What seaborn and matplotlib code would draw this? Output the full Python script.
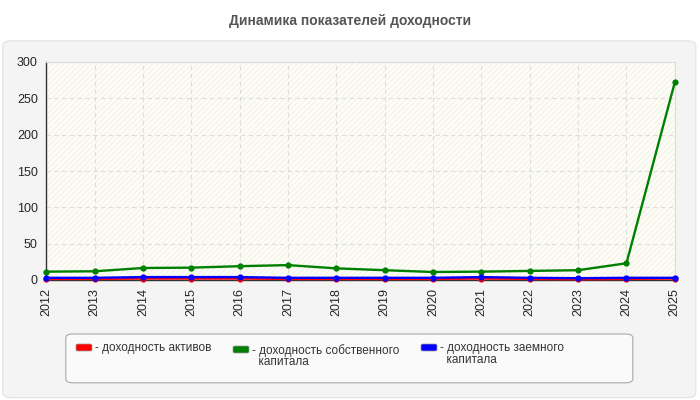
import pandas as pd
import matplotlib.pyplot as plt
import seaborn as sns
from matplotlib.patches import FancyBboxPatch

# данные
years = list(range(2012, 2026))
roa = [1.5, 1.5, 2.0, 2.0, 2.0, 1.5, 1.5, 1.5, 1.5, 2.0, 1.5, 1.0, 1.5, 2.0]
roe = [11.5, 12.0, 16.5, 17.0, 19.0, 20.5, 16.0, 13.5, 11.0, 11.5, 12.5, 13.5, 23.0, 272.0]
rod = [3.0, 3.0, 4.0, 4.0, 4.0, 3.0, 3.0, 3.0, 3.0, 4.0, 3.0, 2.5, 3.0, 3.0]

labels = ['- доходность активов',
          '- доходность собственного\n  капитала',
          '- доходность заемного\n  капитала']
colors = ['#ff0000', '#008000', '#0000ff']

df = pd.DataFrame({
    'год': years * 3,
    'значение': roa + roe + rod,
    'показатель': [labels[0]] * len(years) + [labels[1]] * len(years) + [labels[2]] * len(years),
})

sns.set_style('white')
plt.rcParams['font.family'] = ['Liberation Sans', 'DejaVu Sans']
plt.rcParams['hatch.color'] = '#efefe8'
plt.rcParams['hatch.linewidth'] = 0.6

fig = plt.figure(figsize=(7, 4), dpi=100)
fig.patch.set_facecolor('white')

# серая подложка
fig.patches.append(FancyBboxPatch((0.004, 0.006), 0.99, 0.892, boxstyle='round,pad=0,rounding_size=0.012',
                                  transform=fig.transFigure, facecolor='#f4f4f4', edgecolor='#e2e2e2',
                                  linewidth=0.8, zorder=-5))

fig.text(0.5, 0.948, 'Динамика показателей доходности', ha='center', va='center',
         fontsize=10, fontweight='bold', color='#555555')

ax = fig.add_axes([0.066, 0.30, 0.898, 0.545])
ax.set_facecolor('#fdfdf6')
ax.patch.set_hatch('//////')
ax.patch.set_edgecolor('#efefe8')

sns.lineplot(data=df, x='год', y='значение', hue='показатель', palette=colors,
             marker='o', markersize=4.5, markeredgewidth=0, linewidth=1.7, ax=ax, legend=False)
for ln in ax.lines:
    ln.set_clip_on(False)
    ln.set_zorder(3)

ax.set_xlim(2012, 2025)
ax.set_ylim(0, 300)
ax.set_xticks(years)
ax.set_xticklabels([str(y) for y in years], rotation=90, fontsize=9)
ax.set_yticks(range(0, 301, 50))
ax.tick_params(axis='y', labelsize=9, length=4, width=0.8, color='#333333', pad=2)
ax.tick_params(axis='x', length=4, width=0.8, color='#333333', pad=2)
ax.set_xlabel('')
ax.set_ylabel('')
ax.grid(True, color='#dddddd', linestyle=(0, (4, 3)), linewidth=0.8)
for s in ['left', 'bottom']:
    ax.spines[s].set_color('#333333')
    ax.spines[s].set_linewidth(1)
for s in ['top', 'right']:
    ax.spines[s].set_color('#dddddd')
    ax.spines[s].set_linewidth(0.8)

# легенда
fig.patches.append(FancyBboxPatch((0.094, 0.043), 0.81, 0.122, boxstyle='round,pad=0,rounding_size=0.01',
                                  transform=fig.transFigure, facecolor='#fafafa', edgecolor='#aaaaaa',
                                  linewidth=0.8, zorder=1))
W, H = 700, 400
leg_x = [76, 233, 421]
leg_y = [344, 346, 344]
text_y = [342, 344, 342]
for x, y, ty, c, lab in zip(leg_x, leg_y, text_y, colors, labels):
    fig.patches.append(FancyBboxPatch((x / W, 1 - (y + 7) / H), 16 / W, 7 / H,
                                      boxstyle='round,pad=0,rounding_size=0.003',
                                      transform=fig.transFigure, facecolor=c, edgecolor='#999999',
                                      linewidth=0.5, zorder=2))
    fig.text((x + 19) / W, 1 - ty / H, lab, ha='left', va='top', fontsize=8.5,
             color='#333333', linespacing=0.95)

fig.savefig('out.png', dpi=100)
